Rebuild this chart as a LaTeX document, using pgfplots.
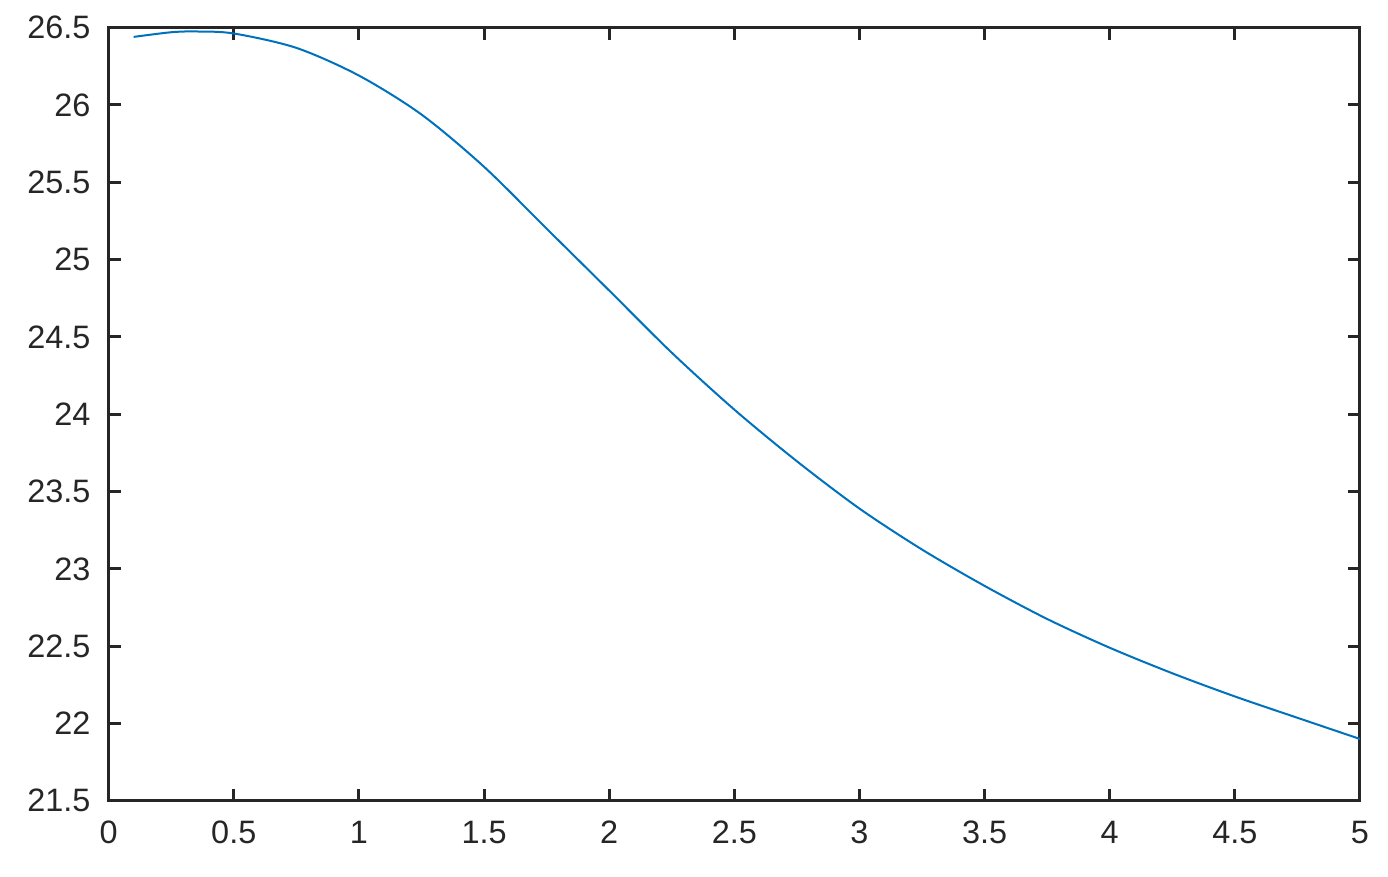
\documentclass[border=0pt]{standalone}
\usepackage{pgfplots}
\pgfplotsset{compat=1.18}
\usepackage{fontspec}
\setmainfont{Liberation Sans}
\definecolor{mblue}{rgb}{0,0.447,0.741}
\definecolor{axgray}{rgb}{0.15,0.15,0.15}

\begin{document}
\begin{tikzpicture}
  \begin{axis}[
      scale only axis,
      width=312.75pt, height=193.25pt,
      xmin=0, xmax=5, ymin=21.5, ymax=26.5,
      xtick={0,0.5,...,5}, ytick={21.5,22,...,26.5},
      tick align=inside, major tick length=3pt,
      axis line style={axgray, line width=0.75pt},
      every tick/.style={axgray, line width=0.75pt},
      tick label style={font=\fontsize{8.1}{9.7}\selectfont, text=axgray},
      /pgf/number format/assume math mode=true,
      /pgf/number format/fixed,
      xticklabel style={yshift=-1.5pt},
      yticklabel style={xshift=-1pt},
    ]
    \addplot[mblue, line width=0.5pt, smooth] table {
      x      y
      0.10   26.440
      0.25   26.470
      0.35   26.475
      0.50   26.462
      0.75   26.369
      1.00   26.190
      1.25   25.938
      1.50   25.600
      1.75   25.200
      2.00   24.800
      2.25   24.398
      2.50   24.030
      2.75   23.696
      3.00   23.390
      3.25   23.125
      3.50   22.890
      3.75   22.676
      4.00   22.490
      4.25   22.325
      4.50   22.175
      4.75   22.037
      5.00   21.900
    };
  \end{axis}
  \path[use as bounding box] ([shift={(-27.15pt,-19pt)}]current axis.south west)
    rectangle ([shift={(7pt,6.9pt)}]current axis.north east);
\end{tikzpicture}
\end{document}
